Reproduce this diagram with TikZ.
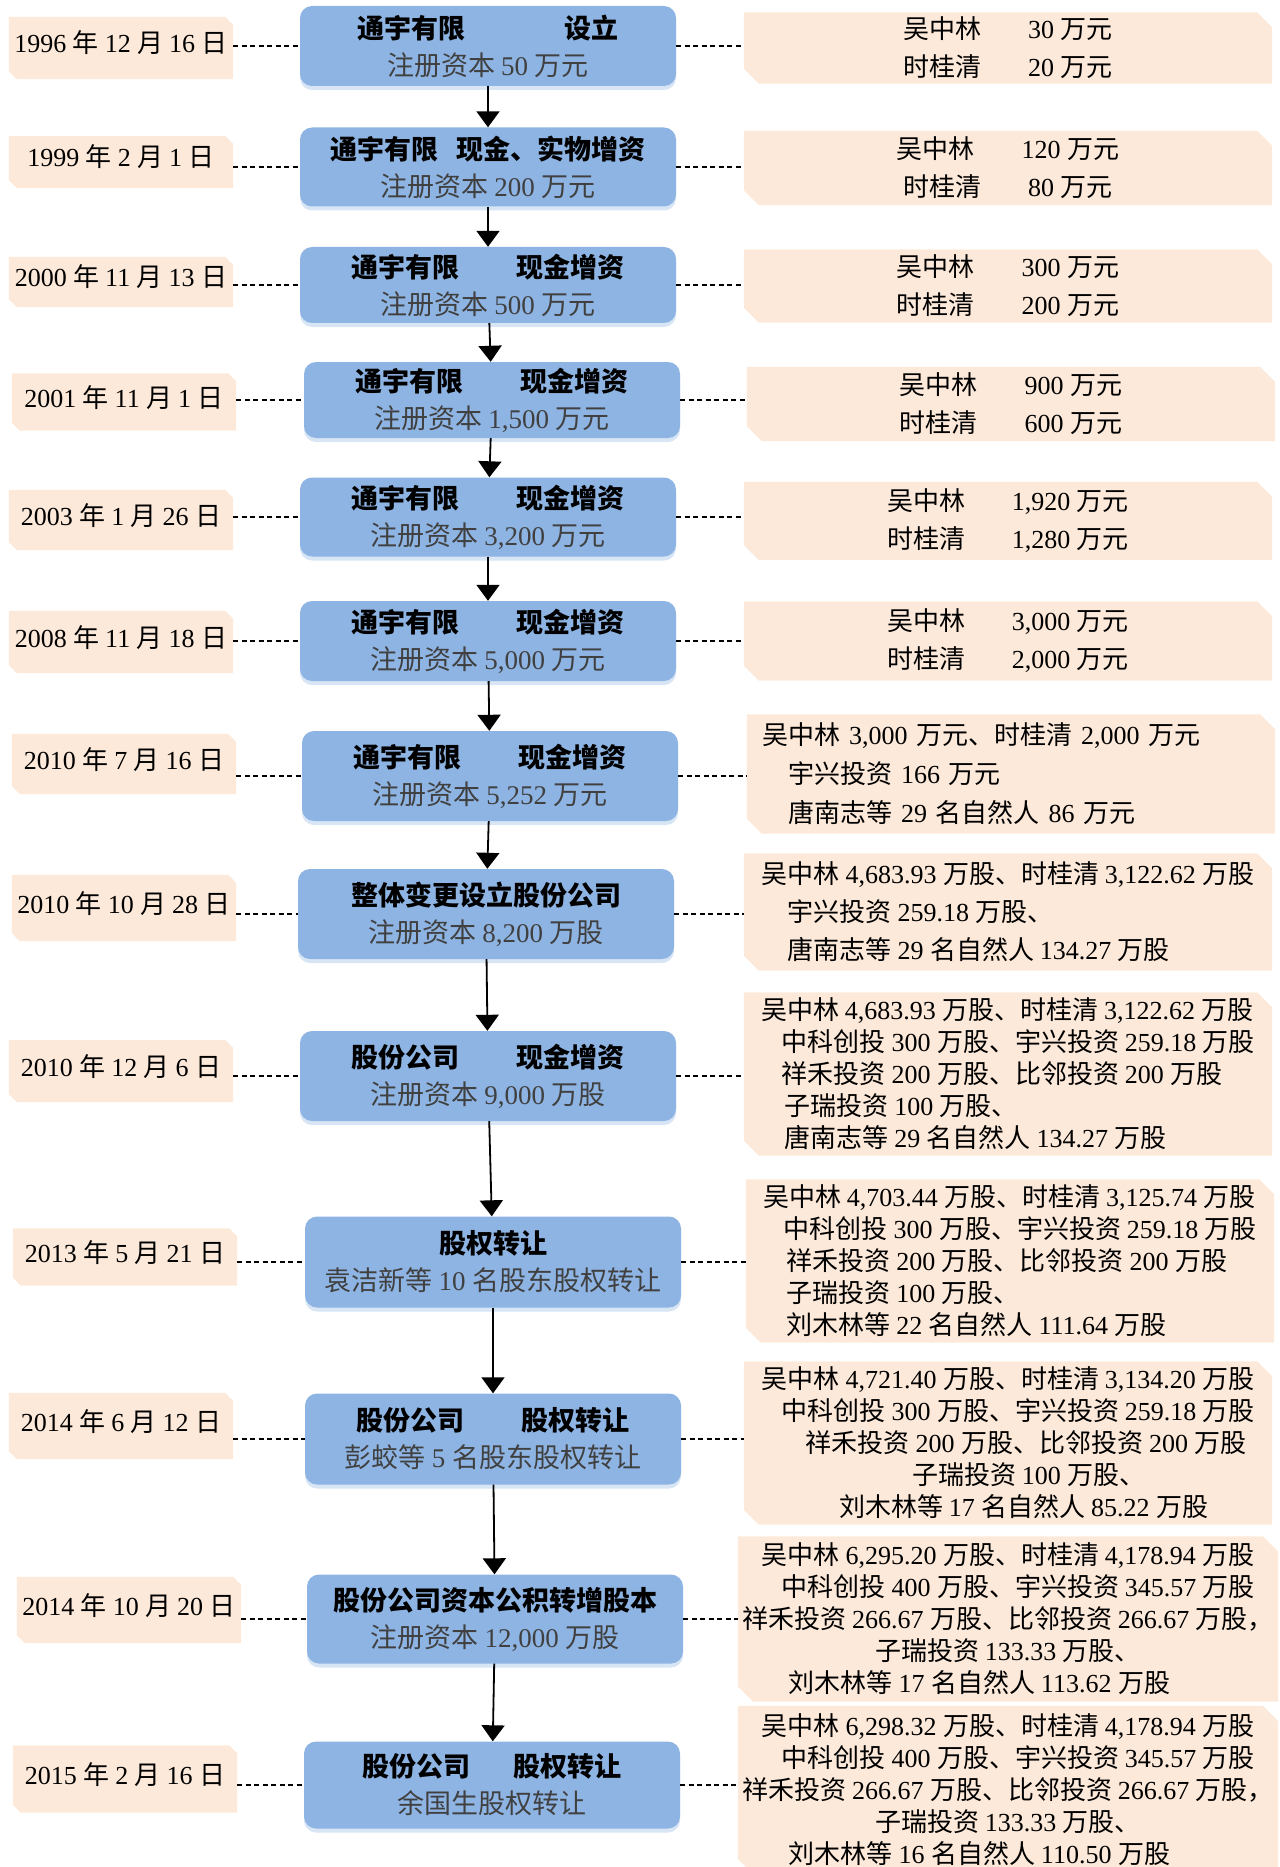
\documentclass[tikz,border=0pt]{standalone}
\usepackage{fontspec}
\setmainfont{Liberation Serif}
\newfontfamily\cjk{Noto Sans CJK SC}
\usetikzlibrary{arrows.meta}
\usetikzlibrary{backgrounds}
\usetikzlibrary{shadows}

% Latin text in the serif, Chinese characters in the CJK family
\XeTeXinterchartokenstate=1
\newcount\cjkcode
\cjkcode="4E00
\loop
  \XeTeXcharclass\cjkcode=7
  \advance\cjkcode by 1
\ifnum\cjkcode<"A000 \repeat
\XeTeXcharclass"3001=7
\XeTeXcharclass"FF0C=7
\XeTeXinterchartoks 0 7 = {\cjk}
\XeTeXinterchartoks 4095 7 = {\cjk}
\XeTeXinterchartoks 7 0 = {\rmfamily}
\XeTeXinterchartoks 4095 0 = {\rmfamily}

\definecolor{boxblue}{HTML}{8EB4E3}
\definecolor{peach}{HTML}{FDE9D9}
\tikzset{dt/.style={minimum width=224pt,inner sep=0pt,text height=18pt,text depth=8pt,font=\fontsize{26}{30}\selectfont}}
\tikzset{bx/.style={fill=boxblue,rounded corners=12pt,minimum width=376pt,inner sep=0pt,align=center,
  font=\fontsize{27}{37}\selectfont,
  drop shadow={shadow xshift=0pt,shadow yshift=-4pt,fill=boxblue!35,opacity=1}}}
\tikzset{rt/.style={minimum width=528pt,inner xsep=4pt,inner ysep=0pt,font=\fontsize{26}{32}\selectfont}}
\tikzset{dsh/.style={line width=1.3pt,dash pattern=on 5pt off 3.5pt}}
\tikzset{arr/.style={line width=1.8pt,-{Triangle[length=16pt,width=23pt]}}}

\begin{document}
\begin{tikzpicture}[x=1pt,y=-1pt]
  \useasboundingbox (0,0) rectangle (1279,1867);
  % dates
  \node[dt,minimum height=62pt] (d1) at (121,48) {1996 年 12 月 16 日};
  \node[dt,minimum height=52pt] (d2) at (121,162) {1999 年 2 月 1 日};
  \node[dt,minimum height=50pt] (d3) at (121,282) {2000 年 11 月 13 日};
  \node[dt,minimum height=57pt] (d4) at (124,402) {2001 年 11 月 1 日};
  \node[dt,minimum height=60pt] (d5) at (121,520) {2003 年 1 月 26 日};
  \node[dt,minimum height=62pt] (d6) at (121,642) {2008 年 11 月 18 日};
  \node[dt,minimum height=60pt] (d7) at (124,764) {2010 年 7 月 16 日};
  \node[dt,minimum height=66pt] (d8) at (124,908) {2010 年 10 月 28 日};
  \node[dt,minimum height=62pt] (d9) at (121,1071) {2010 年 12 月 6 日};
  \node[dt,minimum height=57pt] (d10) at (125,1257) {2013 年 5 月 21 日};
  \node[dt,minimum height=66pt] (d11) at (121,1426) {2014 年 6 月 12 日};
  \node[dt,minimum height=66pt] (d12) at (129,1610) {2014 年 10 月 20 日};
  \node[dt,minimum height=67pt] (d13) at (125,1779) {2015 年 2 月 16 日};

  % steps
  \node[bx,minimum height=80pt] (b1) at (488,46)
    {{\bfseries 通宇有限\hspace{3.7em}设立}\\{\color{black!75}注册资本 50 万元}};
  \node[bx,minimum height=79pt] (b2) at (488,167)
    {{\bfseries 通宇有限\hspace{0.7em}现金、实物增资}\\{\color{black!75}注册资本 200 万元}};
  \node[bx,minimum height=76pt] (b3) at (488,285)
    {{\bfseries 通宇有限\hspace{2.1em}现金增资}\\{\color{black!75}注册资本 500 万元}};
  \node[bx,minimum height=76pt] (b4) at (492,400)
    {{\bfseries 通宇有限\hspace{2.1em}现金增资}\\{\color{black!75}注册资本 1,500 万元}};
  \node[bx,minimum height=79pt] (b5) at (488,517)
    {{\bfseries 通宇有限\hspace{2.1em}现金增资}\\{\color{black!75}注册资本 3,200 万元}};
  \node[bx,minimum height=80pt] (b6) at (488,641)
    {{\bfseries 通宇有限\hspace{2.1em}现金增资}\\{\color{black!75}注册资本 5,000 万元}};
  \node[bx,minimum height=90pt] (b7) at (490,776)
    {{\bfseries 通宇有限\hspace{2.1em}现金增资}\\{\color{black!75}注册资本 5,252 万元}};
  \node[bx,minimum height=90pt] (b8) at (486,914)
    {{\bfseries 整体变更设立股份公司}\\{\color{black!75}注册资本 8,200 万股}};
  \node[bx,minimum height=90pt] (b9) at (488,1076)
    {{\bfseries 股份公司\hspace{2.1em}现金增资}\\{\color{black!75}注册资本 9,000 万股}};
  \node[bx,minimum height=91pt] (b10) at (493,1262)
    {{\bfseries 股权转让}\\{\color{black!75}袁洁新等 10 名股东股权转让}};
  \node[bx,minimum height=91pt] (b11) at (493,1439)
    {{\bfseries 股份公司\hspace{2.1em}股权转让}\\{\color{black!75}彭蛟等 5 名股东股权转让}};
  \node[bx,minimum height=89pt] (b12) at (495,1619)
    {{\bfseries 股份公司资本公积转增股本}\\{\color{black!75}注册资本 12,000 万股}};
  \node[bx,minimum height=87pt] (b13) at (492,1785)
    {{\bfseries 股份公司\hspace{1.6em}股权转让}\\{\color{black!75}余国生股权转让}};

  % shareholders
  \node[rt,minimum height=71pt,align=center] (r1) at (1008,48)
    {吴中林\hspace{1.8em}30 万元\\[6pt]时桂清\hspace{1.8em}20 万元};
  \node[rt,minimum height=74pt,align=center] (r2) at (1008,168)
    {吴中林\hspace{1.8em}120 万元\\[6pt]时桂清\hspace{1.8em}80 万元};
  \node[rt,minimum height=73pt,align=center] (r3) at (1008,286)
    {吴中林\hspace{1.8em}300 万元\\[6pt]时桂清\hspace{1.8em}200 万元};
  \node[rt,minimum height=74pt,align=center] (r4) at (1011,404)
    {吴中林\hspace{1.8em}900 万元\\[6pt]时桂清\hspace{1.8em}600 万元};
  \node[rt,minimum height=78pt,align=center] (r5) at (1008,521)
    {吴中林\hspace{1.8em}1,920 万元\\[6pt]时桂清\hspace{1.8em}1,280 万元};
  \node[rt,minimum height=79pt,align=center] (r6) at (1008,641)
    {吴中林\hspace{1.8em}3,000 万元\\[6pt]时桂清\hspace{1.8em}2,000 万元};
  \node[rt,minimum height=119pt,align=left,text width=497pt,inner xsep=15.5pt] (r7) at (1011,774)
    {吴中林 3,000 万元、时桂清 2,000 万元\\[7pt]\hspace*{1em}宇兴投资 166 万元\\[7pt]\hspace*{1em}唐南志等 29 名自然人 86 万元};
  \node[rt,minimum height=117pt,align=left] (r8) at (1008,912)
    {吴中林 4,683.93 万股、时桂清 3,122.62 万股\\[6pt]\hspace*{1em}宇兴投资 259.18 万股、\\[6pt]\hspace*{1em}唐南志等 29 名自然人 134.27 万股};
  \node[rt,minimum height=163pt,align=left] (r9) at (1008,1074)
    {吴中林 4,683.93 万股、时桂清 3,122.62 万股\\\hspace*{0.8em}中科创投 300 万股、宇兴投资 259.18 万股\\
     \hspace*{0.8em}祥禾投资 200 万股、比邻投资 200 万股\\\hspace*{0.9em}子瑞投资 100 万股、\\
     \hspace*{0.9em}唐南志等 29 名自然人 134.27 万股};
  \node[rt,minimum height=163pt,align=left] (r10) at (1010,1261)
    {吴中林 4,703.44 万股、时桂清 3,125.74 万股\\\hspace*{0.8em}中科创投 300 万股、宇兴投资 259.18 万股\\
     \hspace*{0.9em}祥禾投资 200 万股、比邻投资 200 万股\\\hspace*{0.9em}子瑞投资 100 万股、\\
     \hspace*{0.9em}刘木林等 22 名自然人 111.64 万股};
  \node[rt,minimum height=163pt,align=center] (r11) at (1008,1443)
    {吴中林 4,721.40 万股、时桂清 3,134.20 万股\\\hspace*{0.8em}中科创投 300 万股、宇兴投资 259.18 万股\\
     \hspace*{1.4em}祥禾投资 200 万股、比邻投资 200 万股\\\hspace*{1.6em}子瑞投资 100 万股、\\
     \hspace*{1.2em}刘木林等 17 名自然人 85.22 万股};
  \node[rt,minimum height=165pt,align=center] (r12) at (1008,1619)
    {吴中林 6,295.20 万股、时桂清 4,178.94 万股\\\hspace*{0.8em}中科创投 400 万股、宇兴投资 345.57 万股\\
     祥禾投资 266.67 万股、比邻投资 266.67 万股，\\子瑞投资 133.33 万股、\\
     刘木林等 17 名自然人 113.62 万股\hspace*{2.2em}};
  \node[rt,minimum height=168pt,align=center] (r13) at (1008,1790)
    {吴中林 6,298.32 万股、时桂清 4,178.94 万股\\\hspace*{0.8em}中科创投 400 万股、宇兴投资 345.57 万股\\
     祥禾投资 266.67 万股、比邻投资 266.67 万股，\\子瑞投资 133.33 万股、\\
     刘木林等 16 名自然人 110.50 万股\hspace*{2.2em}};

  % peach boxes with cut corners
  \begin{scope}[on background layer]
    \foreach \i in {1,...,13} {
      \fill[peach] (d\i.north west) -- ([xshift=-8pt]d\i.north east) -- ([yshift=-8pt]d\i.north east)
        -- (d\i.south east) -- ([xshift=8pt]d\i.south west) -- ([yshift=8pt]d\i.south west) -- cycle;
      \fill[peach] (r\i.north west) -- ([xshift=-15pt]r\i.north east) -- ([yshift=-15pt]r\i.north east)
        -- (r\i.south east) -- ([xshift=15pt]r\i.south west) -- ([yshift=15pt]r\i.south west) -- cycle;
    }
  \end{scope}

  \foreach \i [count=\j from 2] in {1,...,12}
    \draw[arr] (b\i) -- (b\j);
  \foreach \i in {1,...,13} {
    \draw[dsh] (b\i.west -| d\i.east) -- (b\i.west);
    \draw[dsh] (b\i.east) -- (b\i.east -| r\i.west);
  }
\end{tikzpicture}
\end{document}
